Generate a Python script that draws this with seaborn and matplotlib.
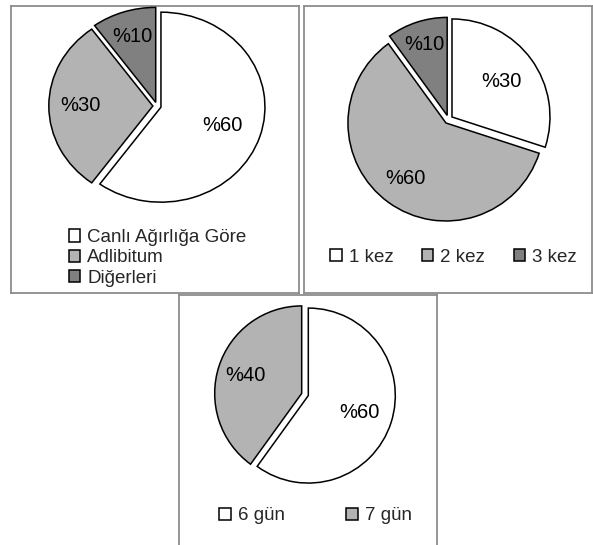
import numpy as np
import matplotlib
matplotlib.use("Agg")
import matplotlib.pyplot as plt
import seaborn as sns

# ---------------- data ----------------
labels1 = ["Canlı Ağırlığa Göre", "Adlibitum", "Diğerleri"]
values1 = [60, 30, 10]
labels2 = ["1 kez", "2 kez", "3 kez"]
values2 = [30, 60, 10]
labels3 = ["6 gün", "7 gün"]
values3 = [60, 40]

# ---------------- style ----------------
sns.set_theme(style="white")
plt.rcParams["font.family"] = ["Liberation Sans", "DejaVu Sans"]
FS = 13.5
FS_PCT = 14.5
WHITE, LIGHT, DARK = "#ffffff", "#b3b3b3", "#808080"
FRAME = "#8c8c8c"

W, H = 593, 545
fig = plt.figure(figsize=(W / 100, H / 100), dpi=100)
fig.patch.set_facecolor("white")


def box(x0, y0, x1, y1):
    return [x0 / W, 1 - y1 / H, (x1 - x0) / W, (y1 - y0) / H]


def panel(x0, y0, x1, y1):
    ax = fig.add_axes(box(x0, y0, x1, y1), zorder=0)
    ax.set_xticks([])
    ax.set_yticks([])
    ax.set_facecolor("white")
    for s in ax.spines.values():
        s.set_visible(True)
        s.set_color(FRAME)
        s.set_linewidth(1.3)
    return ax


def pie(cx, cy, rx, ry, values, colors, explode, dists):
    ax = fig.add_axes(box(cx - rx, cy - ry, cx + rx, cy + ry), zorder=2)
    wedges, texts, autotexts = ax.pie(
        values, colors=colors, startangle=90, counterclock=False,
        explode=[explode] * len(values),
        wedgeprops=dict(edgecolor="black", linewidth=1.1),
        autopct=lambda p: f"%{p:.0f}", pctdistance=0.6,
        textprops=dict(fontsize=FS_PCT, color="black"),
    )
    for w, t, d in zip(wedges, autotexts, dists):
        w.set_clip_on(False)
        mid = np.deg2rad((w.theta1 + w.theta2) / 2)
        t.set_position(((d + explode) * np.cos(mid), (d + explode) * np.sin(mid)))
        t.set_ha("center")
        t.set_va("center")
        t.set_clip_on(False)
    ax.set_xlim(-1, 1)
    ax.set_ylim(-1, 1)
    ax.set_aspect("auto")
    ax.axis("off")
    return wedges


legend_kw = dict(frameon=False, fontsize=FS, handlelength=0.62, handleheight=0.62,
                 handletextpad=0.37, borderpad=0, borderaxespad=0)

# ---- panel 1 ----
ax1 = panel(10.5, 5.5, 299, 293)
w1 = pie(157, 106, 104, 95, values1, [WHITE, LIGHT, DARK], 0.04, [0.62, 0.70, 0.73])
ax1.legend(w1, labels1, loc="center left", bbox_to_anchor=(68.5 / W, 1 - 258 / H),
           bbox_transform=fig.transFigure, labelspacing=0.18, **legend_kw)

# ---- panel 2 ----
ax2 = panel(304, 5.5, 592, 293)
w2 = pie(448.5, 119.5, 98, 98, values2, [WHITE, LIGHT, DARK], 0.044, [0.62, 0.70, 0.76])
ax2.legend(w2, labels2, loc="center left", bbox_to_anchor=(330 / W, 1 - 257 / H),
           bbox_transform=fig.transFigure, ncol=3, columnspacing=1.52, **legend_kw)

# ---- panel 3 ----
ax3 = panel(179, 295, 437, 546)
w3 = pie(305, 394.5, 87, 87.5, values3, [WHITE, LIGHT], 0.04, [0.62, 0.68])
ax3.legend(w3, labels3, loc="center left", bbox_to_anchor=(219 / W, 1 - 516 / H),
           bbox_transform=fig.transFigure, ncol=2, columnspacing=3.28, **legend_kw)

fig.savefig("out.png", dpi=100, facecolor="white")
